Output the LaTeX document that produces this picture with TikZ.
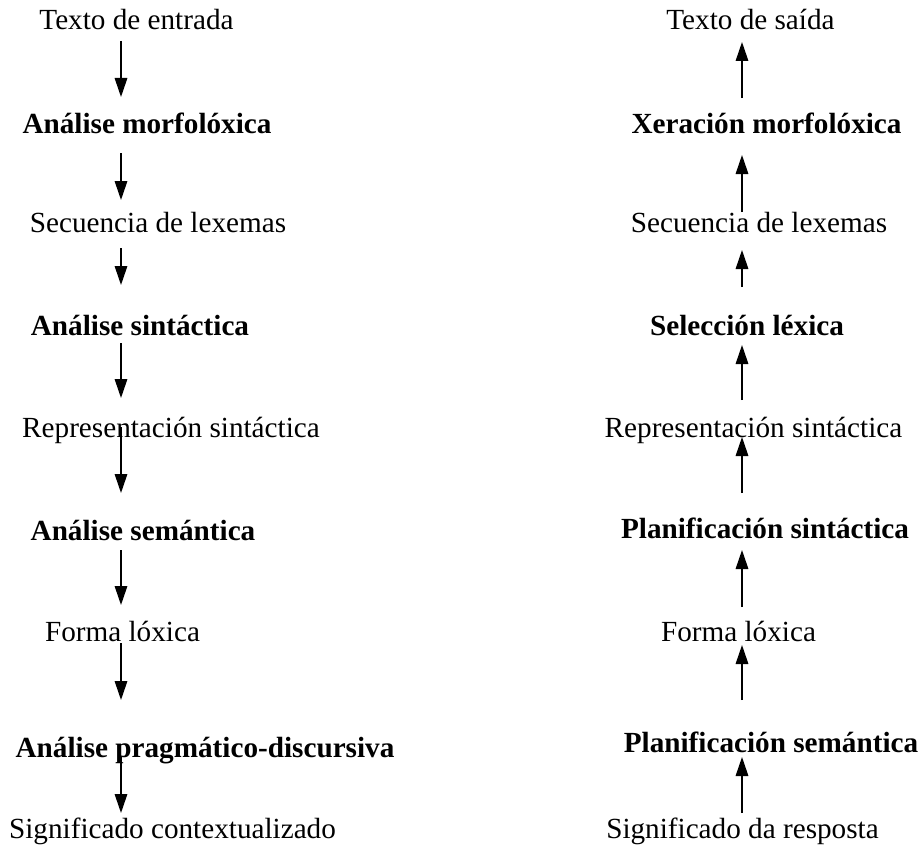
\documentclass[tikz,border=0pt]{standalone}
\usepackage{fontspec}
\setmainfont{Liberation Serif}
\usetikzlibrary{arrows.meta}
\begin{document}
\begin{tikzpicture}[x=1pt,y=-1pt,
  lbl/.style={inner sep=0pt,anchor=base,font=\fontsize{29.2}{34}\selectfont},
  blbl/.style={lbl,font=\fontsize{29.2}{34}\selectfont\bfseries},
  flow/.style={line width=1.6pt,-{Triangle[length=19pt,width=12.5pt]}}]
\useasboundingbox (0,0) rectangle (921,851);
% left column
\node[lbl]  (l1) at (136.5,30) {Texto de entrada};
\node[blbl] (l2) at (147,133) {Análise morfolóxica};
\node[lbl]  (l3) at (158,232) {Secuencia de lexemas};
\node[blbl] (l4) at (140,335) {Análise sintáctica};
\node[lbl]  (l5) at (171,437) {Representación sintáctica};
\node[blbl] (l6) at (143,540) {Análise semántica};
\node[lbl]  (l7) at (122.5,641) {Forma lóxica};
\node[blbl] (l8) at (205,757) {Análise pragmático-discursiva};
\node[lbl]  (l9) at (172.5,838) {Significado contextualizado};
% right column
\node[lbl]  (r1) at (750.5,30) {Texto de saída};
\node[blbl] (r2) at (766.5,133) {Xeración morfolóxica};
\node[lbl]  (r3) at (759,232) {Secuencia de lexemas};
\node[blbl] (r4) at (747,335) {Selección léxica};
\node[lbl]  (r5) at (753.5,437) {Representación sintáctica};
\node[blbl] (r6) at (765,538) {Planificación sintáctica};
\node[lbl]  (r7) at (738.5,641) {Forma lóxica};
\node[blbl] (r8) at (771,752) {Planificación semántica};
\node[lbl]  (r9) at (742.5,838) {Significado da resposta};
% arrow end points, left
\coordinate (la1s) at (121,41);  \coordinate (la1e) at (121,97);
\coordinate (la2s) at (121,153); \coordinate (la2e) at (121,200);
\coordinate (la3s) at (121,248); \coordinate (la3e) at (121,285);
\coordinate (la4s) at (121,343); \coordinate (la4e) at (121,398);
\coordinate (la5s) at (121,427); \coordinate (la5e) at (121,493);
\coordinate (la6s) at (121,550); \coordinate (la6e) at (121,605);
\coordinate (la7s) at (121,643); \coordinate (la7e) at (121,700);
\coordinate (la8s) at (121,757); \coordinate (la8e) at (121,813);
% arrow end points, right
\coordinate (ra1s) at (742,98);  \coordinate (ra1e) at (742,42);
\coordinate (ra2s) at (742,212); \coordinate (ra2e) at (742,155);
\coordinate (ra3s) at (742,287); \coordinate (ra3e) at (742,250);
\coordinate (ra4s) at (742,400); \coordinate (ra4e) at (742,345);
\coordinate (ra5s) at (742,493); \coordinate (ra5e) at (742,437);
\coordinate (ra6s) at (742,607); \coordinate (ra6e) at (742,550);
\coordinate (ra7s) at (742,700); \coordinate (ra7e) at (742,645);
\coordinate (ra8s) at (742,813); \coordinate (ra8e) at (742,757);
\foreach \i in {1,...,8}{
  \draw[flow] (la\i s) -- (la\i e);
  \draw[flow] (ra\i s) -- (ra\i e);
}
\end{tikzpicture}
\end{document}
